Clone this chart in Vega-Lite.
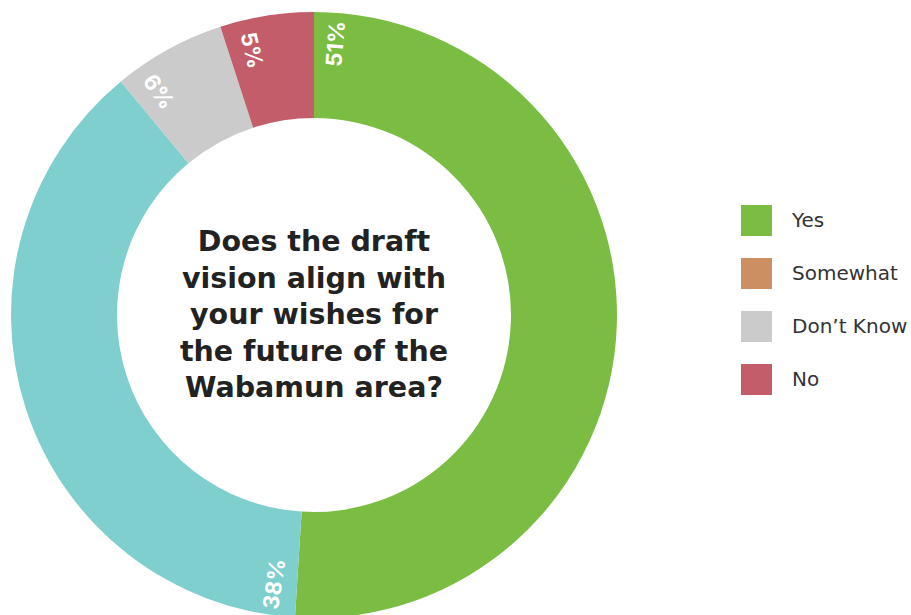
{
  "$schema": "https://vega.github.io/schema/vega-lite/v6.json",
  "width": 628,
  "height": 630,
  "padding": 0,
  "background": "white",
  "config": {"view": {"stroke": null}},
  "data": {
    "values": [
      {"answer": "Yes", "pct": 51, "order": 1},
      {"answer": "Somewhat", "pct": 38, "order": 2},
      {"answer": "Don’t Know", "pct": 6, "order": 3},
      {"answer": "No", "pct": 5, "order": 4}
    ]
  },
  "transform": [
    {"stack": "pct", "groupby": [], "sort": [{"field": "order"}], "as": ["s0", "s1"]}
  ],
  "layer": [
    {
      "mark": {"type": "arc", "innerRadius": 197, "outerRadius": 303, "stroke": null},
      "encoding": {
        "theta": {"field": "s0", "type": "quantitative", "scale": {"domain": [0, 100], "range": [0, 6.283185307]}},
        "theta2": {"field": "s1"},
        "color": {
          "field": "answer",
          "type": "nominal",
          "condition": {"test": "datum.answer === 'Somewhat'", "value": "#80cfcf"},
          "scale": {
            "domain": ["Yes", "Somewhat", "Don’t Know", "No"],
            "range": ["#7bbd43", "#cb8f61", "#cbcbcb", "#c35d69"]
          },
          "legend": {
            "title": null,
            "orient": "none",
            "legendX": 741,
            "legendY": 205,
            "padding": 0,
            "symbolType": "square",
            "symbolSize": 961,
            "symbolStrokeWidth": 0,
            "labelFont": "DejaVu Sans",
            "labelFontSize": 20,
            "labelColor": "#333333",
            "labelOffset": 20,
            "labelLimit": 300,
            "rowPadding": 22
          }
        }
      }
    },
    {
      "transform": [
        {"calculate": "datum.s0 + 1.3", "as": "lt"},
        {"calculate": "datum.lt * 3.6 - 90 > 90 ? datum.lt * 3.6 - 270 : datum.lt * 3.6 - 90", "as": "la"},
        {"calculate": "datum.pct + '%'", "as": "label"}
      ],
      "mark": {"type": "text", "radius": 272, "fontSize": 22, "fontWeight": "bold", "font": "Inter", "color": "white", "align": "center", "baseline": "middle"},
      "encoding": {
        "theta": {"field": "lt", "type": "quantitative", "scale": {"domain": [0, 100], "range": [0, 6.283185307]}},
        "angle": {"field": "la", "type": "quantitative", "scale": null},
        "text": {"field": "label"}
      }
    },
    {
      "data": {"values": [{"q": ["Does the draft", "vision align with", "your wishes for", "the future of the", "Wabamun area?"]}]},
      "transform": [],
      "mark": {"type": "text", "font": "DejaVu Sans", "fontSize": 28.5, "fontWeight": "bold", "color": "#222222", "align": "center", "baseline": "middle", "lineHeight": 36.5, "dy": -73},
      "encoding": {"text": {"field": "q"}}
    }
  ]
}
